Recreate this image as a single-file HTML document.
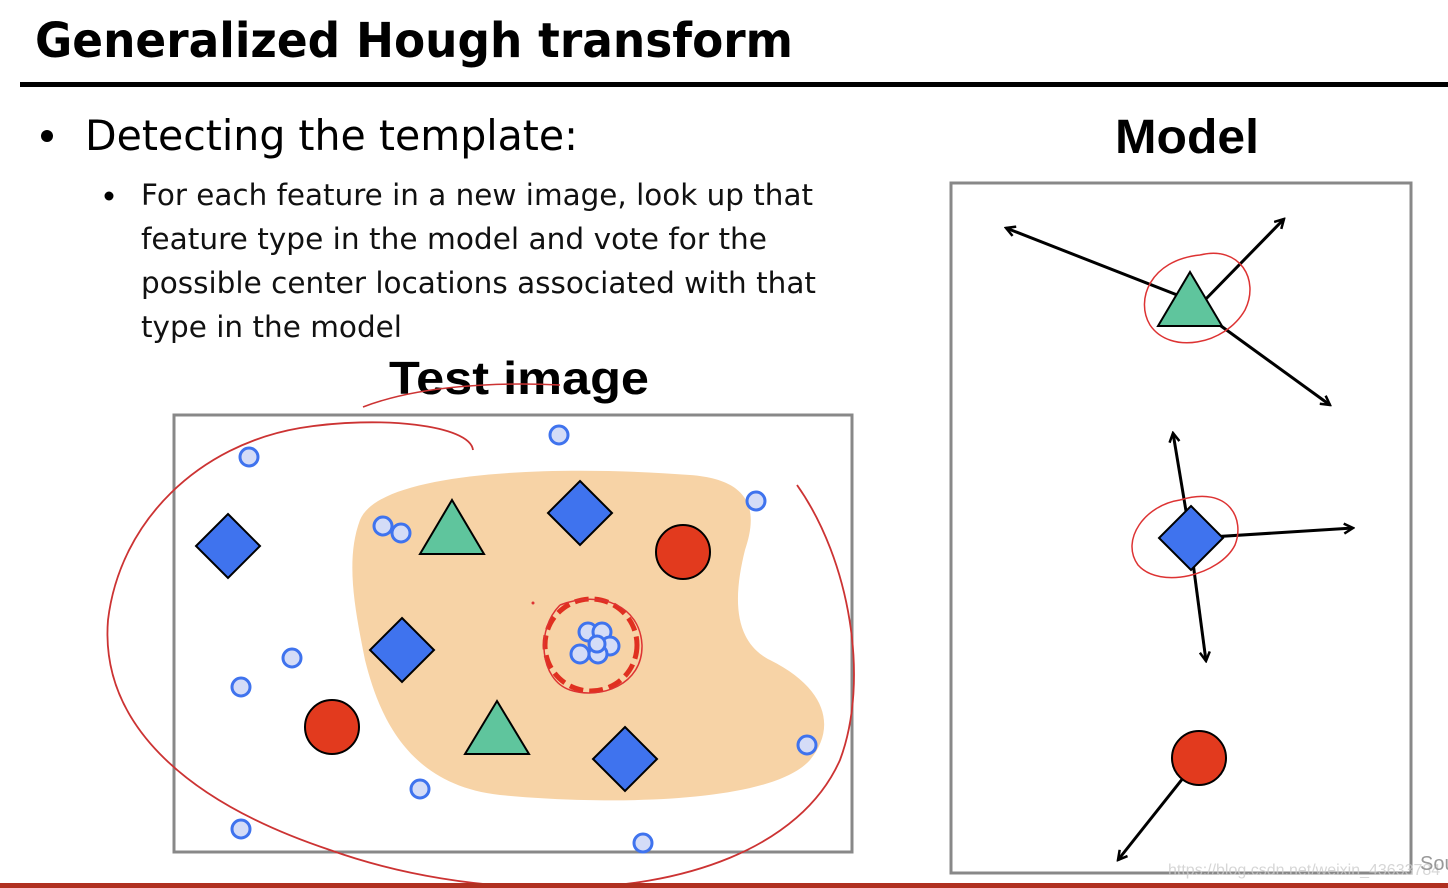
<!DOCTYPE html>
<html><head><meta charset="utf-8"><style>
html,body{margin:0;padding:0;background:#fff;width:1448px;height:888px;overflow:hidden}
svg{display:block}
text{font-family:"DejaVu Sans","Liberation Sans",sans-serif}
</style></head><body>
<svg width="1448" height="888" viewBox="0 0 1448 888" xmlns="http://www.w3.org/2000/svg">
<defs>
<marker id="ah" markerWidth="12" markerHeight="12" refX="10" refY="6" orient="auto" markerUnits="userSpaceOnUse">
<path d="M1,1 L10,6 L1,11" fill="none" stroke="#000" stroke-width="2.5"/>
</marker>
</defs>
<text x="35" y="57" font-size="48" font-weight="bold" fill="#000" textLength="758" lengthAdjust="spacingAndGlyphs">Generalized Hough transform</text>
<rect x="20" y="82" width="1428" height="5" fill="#000"/>
<circle cx="47" cy="136" r="6" fill="#000"/>
<text x="85" y="150" font-size="42" fill="#000" textLength="493" lengthAdjust="spacingAndGlyphs">Detecting the template:</text>
<circle cx="109" cy="196" r="4.5" fill="#000"/>
<g font-size="29" fill="#111">
<text x="141" y="205" textLength="672" lengthAdjust="spacingAndGlyphs">For each feature in a new image, look up that</text>
<text x="141" y="249" textLength="626" lengthAdjust="spacingAndGlyphs">feature type in the model and vote for the</text>
<text x="141" y="293" textLength="675" lengthAdjust="spacingAndGlyphs">possible center locations associated with that</text>
<text x="141" y="337" textLength="261" lengthAdjust="spacingAndGlyphs">type in the model</text>
</g>
<text x="389" y="394" font-size="46" font-weight="bold" fill="#000" style="font-family:'Liberation Sans',sans-serif" textLength="260" lengthAdjust="spacingAndGlyphs">Test image</text>
<text x="1115" y="153" font-size="48" font-weight="bold" fill="#000" style="font-family:'Liberation Sans',sans-serif" textLength="144" lengthAdjust="spacingAndGlyphs">Model</text>
<path d="M363,407 C420,385 500,382 560,385" fill="none" stroke="#c33" stroke-width="1.5"/>

<rect x="174" y="415" width="678" height="437" fill="none" stroke="#888" stroke-width="3"/>
<path d="M360,520 C380,470 560,465 690,475 C760,480 755,520 745,550 C735,590 730,640 770,660 C830,690 835,730 810,760 C770,805 600,805 500,795 C410,785 380,720 365,660 C355,610 345,560 360,520 Z" fill="#f7d3a6"/>

<g fill="#3f73ee" stroke="#000" stroke-width="2">
<polygon points="228,514 260,546 228,578 196,546"/>
<polygon points="580,481 612,513 580,545 548,513"/>
<polygon points="402,618 434,650 402,682 370,650"/>
<polygon points="625,727 657,759 625,791 593,759"/>
</g>
<g fill="#5fc59d" stroke="#000" stroke-width="2">
<polygon points="452,500 484,554 420,554"/>
<polygon points="497,701 529,754 465,754"/>
</g>
<g fill="#e23a1e" stroke="#000" stroke-width="2">
<circle cx="683" cy="552" r="27"/>
<circle cx="332" cy="727" r="27"/>
</g>
<g fill="#d4dcf7" stroke="#3f73ee" stroke-width="3">
<circle cx="559" cy="435" r="9"/><circle cx="249" cy="457" r="9"/><circle cx="756" cy="501" r="9"/>
<circle cx="383" cy="526" r="9"/><circle cx="401" cy="533" r="9"/>
<circle cx="292" cy="658" r="9"/><circle cx="241" cy="687" r="9"/>
<circle cx="807" cy="745" r="9"/><circle cx="420" cy="789" r="9"/>
<circle cx="241" cy="829" r="9"/><circle cx="643" cy="843" r="9"/>
<circle cx="588" cy="632" r="9"/><circle cx="602" cy="632" r="9"/><circle cx="610" cy="646" r="9"/>
<circle cx="598" cy="654" r="9"/><circle cx="580" cy="654" r="9"/><circle cx="597" cy="644" r="8"/>
</g>
<circle cx="591" cy="645" r="46" fill="none" stroke="#e03020" stroke-width="5" stroke-dasharray="14,6"/>
<path d="M560,605 C600,590 640,605 642,645 C643,685 600,700 570,690 C540,680 535,630 560,605" fill="none" stroke="#d33" stroke-width="1.5"/>
<circle cx="533" cy="603" r="1.5" fill="#d33"/>
<path d="M473,450 C470,425 380,415 300,428 C200,445 120,520 108,620 C100,720 180,800 330,850 C400,875 480,888 560,888 C680,888 800,850 840,760 C870,680 850,560 797,485" fill="none" stroke="#c33" stroke-width="1.8"/>

<rect x="951" y="183" width="460" height="690" fill="none" stroke="#888" stroke-width="3"/>
<g stroke="#000" stroke-width="3" marker-end="url(#ah)">
<line x1="1190" y1="300" x2="1006" y2="228"/>
<line x1="1200" y1="305" x2="1284" y2="219"/>
<line x1="1210" y1="318" x2="1330" y2="405"/>
<line x1="1190" y1="535" x2="1173" y2="433"/>
<line x1="1195" y1="538" x2="1353" y2="528"/>
<line x1="1190" y1="540" x2="1206" y2="661"/>
<line x1="1199" y1="758" x2="1118" y2="860"/>
</g>
<polygon points="1190,272 1222,326 1158,326" fill="#5fc59d" stroke="#000" stroke-width="2"/>
<polygon points="1191,506 1223,538 1191,570 1159,538" fill="#3f73ee" stroke="#000" stroke-width="2"/>
<circle cx="1199" cy="758" r="27" fill="#e23a1e" stroke="#000" stroke-width="2"/>
<path d="M1200,255 C1240,245 1260,280 1245,310 C1225,345 1170,355 1150,325 C1135,300 1150,260 1200,255" fill="none" stroke="#d33" stroke-width="1.5"/>
<path d="M1180,500 C1230,485 1245,520 1235,545 C1220,575 1160,590 1138,565 C1120,540 1145,505 1180,500" fill="none" stroke="#d33" stroke-width="1.5"/>
<rect x="0" y="883" width="1448" height="5" fill="#b03020"/>
<text x="1168" y="875" font-size="16" fill="#ccc" opacity="0.8" style="font-family:'Liberation Sans',sans-serif">https://blog.csdn.net/weixin_43633784</text>
<text x="1420" y="870" font-size="20" fill="#999" style="font-family:'Liberation Sans',sans-serif">Sou</text>
</svg>
</body></html>
